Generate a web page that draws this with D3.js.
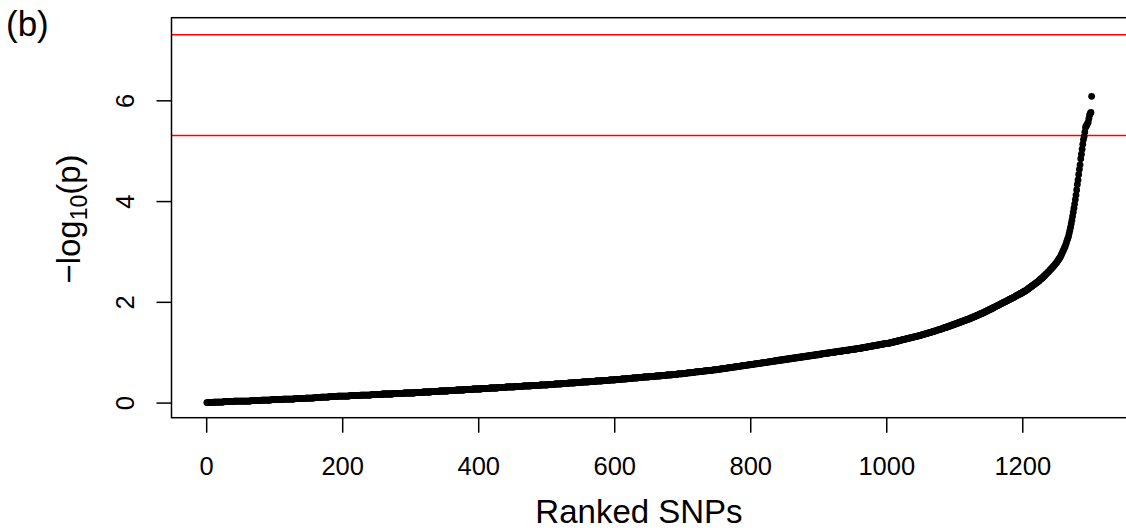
<!DOCTYPE html>
<html><head><meta charset="utf-8">
<script src="https://cdn.jsdelivr.net/npm/d3@7"></script>
<style>html,body{margin:0;padding:0;background:#fff;overflow:hidden}</style>
</head><body>
<svg id="c" width="1126" height="531"></svg>
<script>
// sorted -log10(p) values, rank = index + 1
const logp = [
0.00,0.00,0.00,0.00,0.00,0.00,0.00,0.00,0.00,0.00,0.01,0.01,0.01,0.01,0.01,0.01,0.01,0.01,0.01,0.01,0.01,0.01,0.01,0.01,0.01,0.02,0.02,0.02,0.02,0.02,0.02,0.02,0.02,0.02,0.02,0.02,0.02,0.02,0.02,0.02,0.03,0.03,0.03,0.03,0.03,0.03,0.03,0.03,0.03,0.03,
0.03,0.03,0.03,0.03,0.03,0.03,0.03,0.03,0.03,0.03,0.03,0.03,0.03,0.03,0.03,0.04,0.04,0.04,0.04,0.04,0.04,0.04,0.04,0.04,0.04,0.04,0.04,0.04,0.04,0.04,0.05,0.05,0.05,0.05,0.05,0.05,0.05,0.05,0.05,0.05,0.05,0.05,0.05,0.05,0.05,0.06,0.06,0.06,0.06,0.06,
0.06,0.06,0.06,0.06,0.06,0.06,0.06,0.06,0.06,0.06,0.06,0.06,0.07,0.07,0.07,0.07,0.07,0.07,0.07,0.07,0.07,0.07,0.07,0.07,0.07,0.07,0.07,0.07,0.07,0.08,0.08,0.08,0.08,0.08,0.08,0.08,0.08,0.08,0.08,0.08,0.08,0.08,0.08,0.08,0.08,0.09,0.09,0.09,0.09,0.09,
0.09,0.09,0.09,0.09,0.09,0.09,0.09,0.09,0.10,0.10,0.10,0.10,0.10,0.10,0.10,0.10,0.10,0.10,0.11,0.11,0.11,0.11,0.11,0.11,0.11,0.11,0.11,0.11,0.11,0.11,0.12,0.12,0.12,0.12,0.12,0.12,0.12,0.12,0.12,0.12,0.12,0.12,0.13,0.13,0.13,0.13,0.13,0.13,0.13,0.13,
0.13,0.13,0.13,0.13,0.13,0.13,0.13,0.13,0.13,0.13,0.14,0.14,0.14,0.14,0.14,0.14,0.14,0.14,0.14,0.14,0.14,0.14,0.14,0.14,0.14,0.14,0.15,0.15,0.15,0.15,0.15,0.15,0.15,0.15,0.15,0.15,0.15,0.15,0.15,0.15,0.15,0.15,0.16,0.16,0.16,0.16,0.16,0.16,0.16,0.16,
0.16,0.16,0.16,0.16,0.16,0.16,0.16,0.16,0.17,0.17,0.17,0.17,0.17,0.17,0.17,0.17,0.17,0.17,0.17,0.17,0.17,0.17,0.17,0.17,0.18,0.18,0.18,0.18,0.18,0.18,0.18,0.18,0.18,0.18,0.18,0.18,0.18,0.18,0.18,0.18,0.19,0.19,0.19,0.19,0.19,0.19,0.19,0.19,0.19,0.19,
0.19,0.19,0.19,0.19,0.19,0.19,0.20,0.20,0.20,0.20,0.20,0.20,0.20,0.20,0.20,0.20,0.20,0.20,0.21,0.21,0.21,0.21,0.21,0.21,0.21,0.21,0.21,0.21,0.21,0.21,0.22,0.22,0.22,0.22,0.22,0.22,0.22,0.22,0.22,0.22,0.22,0.22,0.23,0.23,0.23,0.23,0.23,0.23,0.23,0.23,
0.23,0.23,0.23,0.23,0.23,0.24,0.24,0.24,0.24,0.24,0.24,0.24,0.24,0.24,0.24,0.24,0.24,0.25,0.25,0.25,0.25,0.25,0.25,0.25,0.25,0.25,0.25,0.25,0.25,0.26,0.26,0.26,0.26,0.26,0.26,0.26,0.26,0.26,0.26,0.26,0.26,0.27,0.27,0.27,0.27,0.27,0.27,0.27,0.27,0.27,
0.27,0.27,0.27,0.27,0.28,0.28,0.28,0.28,0.28,0.28,0.28,0.28,0.28,0.28,0.28,0.28,0.29,0.29,0.29,0.29,0.29,0.29,0.29,0.29,0.29,0.29,0.29,0.29,0.30,0.30,0.30,0.30,0.30,0.30,0.30,0.30,0.30,0.30,0.30,0.30,0.31,0.31,0.31,0.31,0.31,0.31,0.31,0.31,0.31,0.31,
0.31,0.31,0.31,0.32,0.32,0.32,0.32,0.32,0.32,0.32,0.32,0.32,0.32,0.32,0.32,0.33,0.33,0.33,0.33,0.33,0.33,0.33,0.33,0.33,0.33,0.33,0.33,0.34,0.34,0.34,0.34,0.34,0.34,0.34,0.34,0.34,0.34,0.34,0.34,0.34,0.35,0.35,0.35,0.35,0.35,0.35,0.35,0.35,0.35,0.35,
0.35,0.35,0.36,0.36,0.36,0.36,0.36,0.36,0.36,0.36,0.36,0.36,0.37,0.37,0.37,0.37,0.37,0.37,0.37,0.37,0.37,0.37,0.38,0.38,0.38,0.38,0.38,0.38,0.38,0.38,0.38,0.38,0.39,0.39,0.39,0.39,0.39,0.39,0.39,0.39,0.39,0.39,0.40,0.40,0.40,0.40,0.40,0.40,0.40,0.40,
0.40,0.40,0.41,0.41,0.41,0.41,0.41,0.41,0.41,0.41,0.41,0.41,0.42,0.42,0.42,0.42,0.42,0.42,0.42,0.42,0.42,0.42,0.43,0.43,0.43,0.43,0.43,0.43,0.43,0.43,0.43,0.43,0.44,0.44,0.44,0.44,0.44,0.44,0.44,0.44,0.44,0.44,0.45,0.45,0.45,0.45,0.45,0.45,0.45,0.45,
0.45,0.46,0.46,0.46,0.46,0.46,0.46,0.46,0.46,0.46,0.47,0.47,0.47,0.47,0.47,0.47,0.47,0.47,0.48,0.48,0.48,0.48,0.48,0.48,0.48,0.48,0.49,0.49,0.49,0.49,0.49,0.49,0.49,0.49,0.50,0.50,0.50,0.50,0.50,0.50,0.50,0.50,0.51,0.51,0.51,0.51,0.51,0.51,0.51,0.51,
0.51,0.52,0.52,0.52,0.52,0.52,0.52,0.52,0.52,0.52,0.53,0.53,0.53,0.53,0.53,0.53,0.53,0.53,0.54,0.54,0.54,0.54,0.54,0.54,0.54,0.54,0.55,0.55,0.55,0.55,0.55,0.55,0.55,0.55,0.56,0.56,0.56,0.56,0.56,0.56,0.56,0.56,0.57,0.57,0.57,0.57,0.57,0.57,0.57,0.57,
0.58,0.58,0.58,0.58,0.58,0.58,0.59,0.59,0.59,0.59,0.59,0.59,0.60,0.60,0.60,0.60,0.60,0.60,0.61,0.61,0.61,0.61,0.61,0.61,0.62,0.62,0.62,0.62,0.62,0.62,0.62,0.63,0.63,0.63,0.63,0.63,0.63,0.64,0.64,0.64,0.64,0.64,0.64,0.64,0.65,0.65,0.65,0.65,0.65,0.65,
0.66,0.66,0.66,0.66,0.66,0.67,0.67,0.67,0.67,0.67,0.68,0.68,0.68,0.68,0.68,0.69,0.69,0.69,0.69,0.69,0.70,0.70,0.70,0.70,0.70,0.71,0.71,0.71,0.71,0.71,0.72,0.72,0.72,0.72,0.72,0.73,0.73,0.73,0.73,0.73,0.74,0.74,0.74,0.74,0.74,0.75,0.75,0.75,0.75,0.75,
0.76,0.76,0.76,0.76,0.76,0.77,0.77,0.77,0.77,0.77,0.78,0.78,0.78,0.78,0.78,0.79,0.79,0.79,0.79,0.79,0.80,0.80,0.80,0.80,0.80,0.81,0.81,0.81,0.81,0.81,0.82,0.82,0.82,0.82,0.82,0.83,0.83,0.83,0.83,0.83,0.84,0.84,0.84,0.84,0.84,0.85,0.85,0.85,0.85,0.85,
0.86,0.86,0.86,0.86,0.86,0.87,0.87,0.87,0.87,0.87,0.88,0.88,0.88,0.88,0.88,0.89,0.89,0.89,0.89,0.89,0.90,0.90,0.90,0.90,0.90,0.91,0.91,0.91,0.91,0.91,0.92,0.92,0.92,0.92,0.92,0.93,0.93,0.93,0.93,0.93,0.94,0.94,0.94,0.94,0.94,0.95,0.95,0.95,0.95,0.95,
0.96,0.96,0.96,0.96,0.96,0.97,0.97,0.97,0.97,0.97,0.98,0.98,0.98,0.98,0.98,0.99,0.99,0.99,0.99,0.99,1.00,1.00,1.00,1.00,1.00,1.01,1.01,1.01,1.01,1.01,1.02,1.02,1.02,1.02,1.02,1.03,1.03,1.03,1.03,1.03,1.04,1.04,1.04,1.04,1.04,1.05,1.05,1.05,1.05,1.05,
1.06,1.06,1.06,1.06,1.06,1.07,1.07,1.07,1.07,1.07,1.08,1.08,1.08,1.08,1.09,1.09,1.09,1.09,1.10,1.10,1.10,1.10,1.11,1.11,1.11,1.11,1.12,1.12,1.12,1.12,1.13,1.13,1.13,1.13,1.14,1.14,1.14,1.14,1.15,1.15,1.15,1.15,1.16,1.16,1.16,1.16,1.17,1.17,1.17,1.17,
1.17,1.17,1.18,1.18,1.18,1.19,1.19,1.19,1.20,1.20,1.20,1.21,1.21,1.21,1.22,1.22,1.22,1.23,1.23,1.23,1.24,1.24,1.24,1.25,1.25,1.25,1.26,1.26,1.26,1.27,1.27,1.27,1.28,1.28,1.28,1.29,1.29,1.29,1.30,1.30,1.30,1.31,1.31,1.31,1.32,1.32,1.32,1.33,1.33,1.33,
1.34,1.34,1.35,1.35,1.35,1.36,1.36,1.37,1.37,1.37,1.38,1.38,1.39,1.39,1.39,1.40,1.40,1.41,1.41,1.42,1.42,1.42,1.43,1.43,1.44,1.44,1.45,1.45,1.45,1.46,1.46,1.47,1.47,1.48,1.48,1.49,1.49,1.49,1.50,1.50,1.51,1.51,1.52,1.52,1.53,1.53,1.54,1.54,1.55,1.55,
1.56,1.56,1.57,1.57,1.58,1.58,1.59,1.59,1.60,1.60,1.61,1.61,1.62,1.62,1.63,1.63,1.64,1.64,1.65,1.65,1.66,1.66,1.67,1.67,1.68,1.69,1.69,1.70,1.70,1.71,1.71,1.72,1.73,1.73,1.74,1.74,1.75,1.76,1.76,1.77,1.77,1.78,1.79,1.79,1.80,1.81,1.81,1.82,1.83,1.83,
1.84,1.85,1.85,1.86,1.87,1.87,1.88,1.89,1.89,1.90,1.91,1.91,1.92,1.93,1.93,1.94,1.95,1.96,1.96,1.97,1.98,1.98,1.99,2.00,2.00,2.01,2.02,2.02,2.03,2.04,2.05,2.05,2.06,2.07,2.07,2.08,2.09,2.09,2.10,2.11,2.12,2.13,2.13,2.14,2.15,2.15,2.16,2.17,2.17,2.18,
2.19,2.20,2.21,2.21,2.22,2.23,2.24,2.25,2.26,2.27,2.28,2.29,2.30,2.31,2.32,2.33,2.34,2.35,2.36,2.37,2.38,2.39,2.40,2.41,2.42,2.44,2.45,2.46,2.47,2.48,2.50,2.51,2.52,2.54,2.55,2.56,2.58,2.59,2.60,2.62,2.63,2.65,2.66,2.68,2.69,2.71,2.72,2.74,2.76,2.77,
2.79,2.81,2.83,2.85,2.87,2.89,2.92,2.95,2.98,3.01,3.04,3.07,3.10,3.14,3.18,3.22,3.26,3.30,3.36,3.42,3.48,3.55,3.62,3.70,3.78,3.86,3.94,4.03,4.12,4.22,4.33,4.42,4.53,4.63,4.72,4.84,4.93,5.03,5.13,5.22,5.28,5.37,5.46,5.49,5.51,5.54,5.57,5.64,5.71,5.74,5.76,6.08
];
const xTicks = [0, 200, 400, 600, 800, 1000, 1200];
const yTicks = [0, 2, 4, 6];
const thresholds = [7.30, 5.30];
const panelLabel = "(b)";
const xTitle = "Ranked SNPs";

const FONT = "'Liberation Sans', Arial, Helvetica, sans-serif";
const svg = d3.select("#c");
const L = 171.5, R = 1127, T = 17.7, B = 417.7;

const x = d3.scaleLinear().domain([-51, 1354]).range([L, R]);
const y = d3.scaleLinear().domain([-0.3, 7.64]).range([B, T]);

svg.append("defs").append("clipPath").attr("id", "clip")
  .append("rect").attr("x", L).attr("y", T).attr("width", R - L).attr("height", B - T);

const plot = svg.append("g").attr("clip-path", "url(#clip)");

plot.selectAll("line.thr").data(thresholds).enter().append("line")
  .attr("class", "thr")
  .attr("x1", L).attr("x2", R)
  .attr("y1", d => y(d)).attr("y2", d => y(d))
  .attr("stroke", "#ff0000").attr("stroke-width", 1.5);

plot.selectAll("circle").data(logp).enter().append("circle")
  .attr("cx", (d, i) => x(i + 1))
  .attr("cy", d => y(d))
  .attr("r", 3.4)
  .attr("fill", "#000");

// x axis
const xAxis = d3.axisBottom(x).tickValues(xTicks).tickSize(15).tickFormat(d3.format("d"));
const gx = svg.append("g").attr("transform", `translate(0,${B})`).call(xAxis);
gx.select(".domain").remove();
gx.selectAll(".tick line").attr("stroke", "#000").attr("stroke-width", 1.5);
gx.selectAll(".tick text").attr("font-family", FONT).attr("font-size", 25.5).attr("fill", "#000")
  .attr("y", null).attr("dy", null).attr("transform", "translate(0,57.5)");

// y axis
const yAxis = d3.axisLeft(y).tickValues(yTicks).tickSize(15).tickFormat(d3.format("d"));
const gy = svg.append("g").attr("transform", `translate(${L},0)`).call(yAxis);
gy.select(".domain").remove();
gy.selectAll(".tick line").attr("stroke", "#000").attr("stroke-width", 1.5);
gy.selectAll(".tick text").attr("font-family", FONT).attr("font-size", 25.5).attr("fill", "#000")
  .attr("x", null).attr("dy", null).attr("text-anchor", "middle")
  .attr("transform", "translate(-37.5,0) rotate(-90)");

// box
svg.append("rect").attr("x", L).attr("y", T).attr("width", R - L).attr("height", B - T)
  .attr("fill", "none").attr("stroke", "#000").attr("stroke-width", 1.5);

// x title
svg.append("text").attr("x", 639).attr("y", 523)
  .attr("text-anchor", "middle").attr("font-family", FONT).attr("font-size", 33)
  .attr("fill", "#000").text(xTitle);

// y title with subscript
const yt = svg.append("text")
  .attr("transform", `translate(80,219) rotate(-90)`)
  .attr("text-anchor", "middle").attr("font-family", FONT).attr("font-size", 33).attr("fill", "#000");
yt.append("tspan").text("\u2212log");
yt.append("tspan").attr("font-size", 23).attr("dy", 7).text("10");
yt.append("tspan").attr("dy", -7).text("(p)");

// panel label
svg.append("text").attr("x", 6).attr("y", 35.5).attr("font-family", FONT).attr("font-size", 35)
  .attr("fill", "#000").text(panelLabel);
</script>
</body></html>
